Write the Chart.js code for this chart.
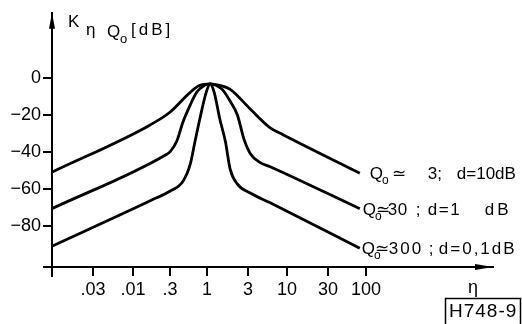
<!DOCTYPE html>
<html><head><meta charset="utf-8">
<script src="https://cdn.jsdelivr.net/npm/chart.js@4.4.1/dist/chart.umd.min.js"></script>
<style>html,body{margin:0;padding:0;background:#fff}#wrap{width:522px;height:324px;position:relative}</style>
</head><body><div id="wrap"><canvas id="c"></canvas></div>
<script>
// x values are in decades of eta (0 = eta 1), as drawn on the reference axis
const xTickPos = [-1.425, -0.925, -0.4625, 0, 0.5125, 1.0, 1.5125, 1.9875];
const xTickLabels = ['.03', '.01', '.3', '1', '3', '10', '30', '100'];
const yTickValues = [0, -20, -40, -60, -80];

const etaQ3 = [-1.94, -0.71, -0.46, -0.21, -0.09, 0.04, 0.16, 0.29, 0.54, 0.79, 0.95, 1.91];
const kQ3   = [-50.7, -25.1, -18.1, -7.5, -3.7, -2.9, -3.7, -5.9, -16.5, -26.7, -30.4, -51.2];

const etaQ30 = [-1.94, -0.53, -0.46, -0.38, -0.30, -0.21, -0.13, -0.03, 0.04, 0.11, 0.19, 0.29, 0.38, 0.46, 0.54, 0.66, 0.79, 1.91];
const kQ30   = [-70.4, -41.6, -39.5, -34.1, -23.5, -14.4, -7.5, -3.7, -2.9, -3.7, -5.9, -12.3, -19.7, -32.5, -40.5, -45.3, -47.7, -70.4];

const etaQ300 = [-1.94, -0.71, -0.46, -0.30, -0.21, -0.15, -0.09, -0.01, 0.04, 0.09, 0.16, 0.23, 0.29, 0.38, 0.54, 0.79, 1.91];
const kQ300   = [-90.7, -66.1, -60.8, -55.5, -46.4, -34.1, -21.9, -7.5, -2.9, -7.5, -21.9, -34.1, -49.1, -57.1, -61.9, -67.2, -91.7];

// label pieces after "Q" with subscript "o": [text, x offset from Q, letter spacing]
const labelQ3   = [['\u2243', 22, 0], ['3;', 58, 0], ['d=10dB', 87, 0]];
const labelQ30  = [['\u2243', 13, 0], ['30', 25, 0.5], [';', 53, 0], ['d=1', 65, 1.5], ['dB', 122, 3]];
const labelQ300 = [['\u2243', 13, 0], ['300', 27, 2], [';', 67, 0], ['d=0,1dB', 77, 2]];

function pts(xs, ys) { return xs.map((x, i) => ({ x: x, y: ys[i] })); }

const FONT = "'Liberation Sans', Arial, sans-serif";

const extras = {
  id: 'extras',
  afterDraw(chart) {
    const ctx = chart.ctx, a = chart.chartArea;
    const xs = chart.scales.x, ys = chart.scales.y;
    ctx.save();
    ctx.fillStyle = '#000'; ctx.strokeStyle = '#000';
    // axis arrows
    ctx.beginPath();
    ctx.moveTo(a.left, a.top); ctx.lineTo(a.left - 3, a.top + 16); ctx.lineTo(a.left + 3, a.top + 16); ctx.closePath(); ctx.fill();
    ctx.beginPath();
    ctx.moveTo(a.right, a.bottom); ctx.lineTo(a.right - 18, a.bottom - 3); ctx.lineTo(a.right - 18, a.bottom + 3); ctx.closePath(); ctx.fill();
    // axis extensions at origin
    ctx.lineWidth = 2;
    ctx.beginPath();
    ctx.moveTo(a.left, a.bottom); ctx.lineTo(a.left, a.bottom + 10);
    ctx.moveTo(a.left - 9, a.bottom); ctx.lineTo(a.left, a.bottom);
    ctx.stroke();

    // y-axis title
    ctx.textBaseline = 'alphabetic'; ctx.textAlign = 'left';
    ctx.font = '17px ' + FONT; ctx.fillText('K', 68, 27);
    ctx.font = '17px ' + FONT; ctx.fillText('\u03B7', 86, 35);
    ctx.font = '17px ' + FONT; ctx.fillText('Q', 107, 37);
    ctx.font = '13px ' + FONT; ctx.fillText('o', 120, 43);
    ctx.font = '17px ' + FONT; ctx.letterSpacing = '3px'; ctx.fillText('[dB]', 131, 35); ctx.letterSpacing = '0px';

    // x-axis title
    ctx.font = '18px ' + FONT; ctx.textAlign = 'center';
    ctx.fillText('\u03B7', 473, 293);

    // figure code box
    ctx.textAlign = 'left';
    ctx.font = '19px ' + FONT;
    ctx.letterSpacing = '1px';
    ctx.fillText('H748-9', 449, 317);
    ctx.letterSpacing = '0px';
    ctx.lineWidth = 1.5;
    ctx.strokeRect(445.5, 298.5, 75, 30);

    // curve labels
    const ends = [[etaQ3, kQ3, 10, labelQ3], [etaQ30, kQ30, 3, labelQ30], [etaQ300, kQ300, 2, labelQ300]];
    ends.forEach((e) => {
      const n = e[0].length - 1;
      const px = xs.getPixelForValue(e[0][n]) + e[2];
      const py = ys.getPixelForValue(e[1][n]) + 6;
      ctx.font = '17px ' + FONT;
      ctx.fillText('Q', px, py);
      const qw = ctx.measureText('Q').width;
      ctx.font = '12px ' + FONT;
      ctx.fillText('o', px + qw - 1, py + 5);
      ctx.font = '17px ' + FONT;
      e[3].forEach(seg => {
        ctx.letterSpacing = seg[2] + 'px';
        ctx.fillText(seg[0], px + seg[1], py);
      });
      ctx.letterSpacing = '0px';
    });
    ctx.restore();
  }
};

const ds = (d) => ({ data: d, borderColor: '#000', borderWidth: 2.8, pointRadius: 0, fill: false, cubicInterpolationMode: 'monotone' });

new Chart(document.getElementById('c'), {
  type: 'line',
  data: { datasets: [ds(pts(etaQ3, kQ3)), ds(pts(etaQ30, kQ30)), ds(pts(etaQ300, kQ300))] },
  options: {
    responsive: true, maintainAspectRatio: false, animation: false, devicePixelRatio: 1,
    layout: { padding: { left: 0, top: 10, right: 29, bottom: 0 } },
    plugins: { legend: { display: false }, tooltip: { enabled: false } },
    scales: {
      x: {
        type: 'linear', min: -1.9375, max: 3.575,
        afterBuildTicks: s => { s.ticks = xTickPos.map(v => ({ value: v })); },
        afterFit: s => { s.height = 57; },
        grid: { drawOnChartArea: false, drawTicks: true, tickLength: 9, color: '#000', lineWidth: 2 },
        border: { display: true, color: '#000', width: 2 },
        ticks: { autoSkip: false, maxRotation: 0, padding: 3, color: '#000', font: { family: FONT, size: 18 },
          callback: (v, i) => xTickLabels[i] }
      },
      y: {
        type: 'linear', min: -101.9, max: 35.5,
        afterBuildTicks: s => { s.ticks = yTickValues.map(v => ({ value: v })); },
        afterFit: s => { s.width = 52; },
        grid: { drawOnChartArea: false, drawTicks: true, tickLength: 9, color: '#000', lineWidth: 2 },
        border: { display: true, color: '#000', width: 2 },
        ticks: { padding: 2, color: '#000', font: { family: FONT, size: 18 },
          callback: v => v === 0 ? '0' : '\u2212' + Math.abs(v) }
      }
    }
  },
  plugins: [extras]
});
</script></body></html>
